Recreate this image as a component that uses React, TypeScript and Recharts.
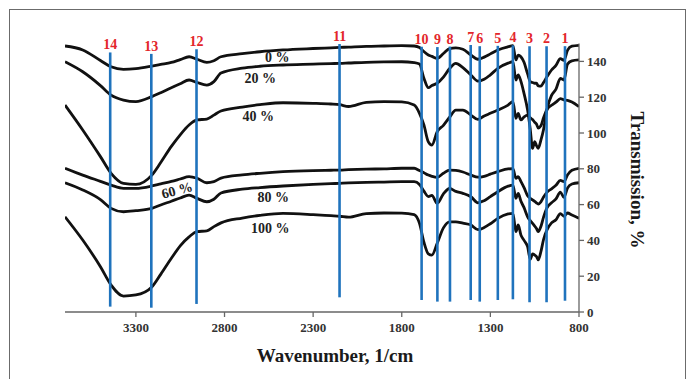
import React from "react";
import {
  LineChart,
  Line,
  XAxis,
  YAxis,
  ReferenceLine,
  ReferenceDot,
} from "recharts";

const SERIF = "'Liberation Serif', 'Times New Roman', serif";

// wavenumber grid, 1/cm
const wavenumbers = [
  3700, 3600, 3500, 3440, 3370, 3300, 3210, 3160, 3100, 3050, 3000, 2955, 2900, 2860, 2820,
  2700, 2600, 2470, 2300, 2200, 2150, 2100, 2000, 1900, 1800, 1730, 1700, 1675, 1650, 1630,
  1600, 1565, 1530, 1495, 1455, 1410, 1370, 1335, 1300, 1258, 1200, 1173, 1156, 1143, 1128,
  1110, 1090, 1075, 1062, 1050, 1040, 1030, 1015, 1000, 980, 955, 930, 905, 885, 865, 840, 800,
];

const t0 = [
  148.6, 146.4, 140.5, 137, 135.6, 136, 137.4, 138.3, 139.4, 141, 142.6, 141.2, 139.5, 140.4, 142.6,
  144.3, 145.4, 146.4, 147.2, 147.6, 147.8, 148, 148.4, 148.6, 148.8, 148.6, 147.8, 145.5, 143.6, 142.8,
  141.7, 144.4, 147.2, 147.6, 146.8, 143.6, 141.2, 142.4, 144.2, 146.4, 148.2, 148.8, 140.8, 143.5, 142.6,
  139.5, 133, 128.7, 128.2, 127.8, 127.8, 126.3, 126.2, 128.2, 131.5, 135.2, 137.8, 141.5, 140.6, 146.2, 148.5, 149,
];

const t20 = [
  139.8, 134.2, 126.5, 121.2, 118.4, 117.5, 120.3, 122.5, 125.3, 127.5, 129.6, 128.2, 126.8, 128.7, 133.5,
  136.2, 137.3, 138, 138.5, 138.8, 138.9, 139.1, 139.5, 139.7, 139.8, 139.3, 138.5, 130.6, 125.3, 126.5,
  127.8, 131.2, 136, 138.9, 136.5, 132.4, 129, 130, 132.5, 136.1, 139, 139.8, 129.6, 132.4, 129,
  122, 112.8, 102, 91.4, 95.2, 93, 91.4, 96, 102, 113.5, 121, 124.5, 130.5, 129.6, 138.5, 140.3, 140.8,
];

const t40 = [
  115.6, 101.7, 86.8, 77.5, 71.9, 71.3, 76.5, 83.5, 92.5, 99, 104.5, 107.3, 107.8, 110, 112.3,
  114.5, 115.8, 116.9, 116.6, 116.2, 115.8, 114.8, 117.1, 117.5, 117.4, 115.6, 111, 104.5, 95, 93.2,
  100.7, 104.3, 108.8, 112.8, 112.8, 110, 107.6, 109.5, 111, 112.8, 115.6, 117.5, 108.2, 111, 107.3,
  109, 110, 108.5, 107.5, 106, 105, 102.8, 104, 108.5, 113.3, 115.5, 117.2, 119.2, 118.5, 118.2, 117.3, 114.7,
];

const t60 = [
  80.3, 76.5, 73, 70.9, 69.1, 69.1, 70.4, 71.6, 73, 74.3, 75.6, 74.7, 72.2, 72.8, 74.8,
  76.6, 77.5, 78.4, 79, 79.2, 79.3, 79.5, 79.8, 80, 80.3, 80.3, 79, 77.8, 76.5, 75.8,
  75.2, 77.5, 79.3, 79.1, 78.2, 76.5, 75.3, 75.8, 77, 78.4, 80, 80.1, 74.7, 75.6, 73,
  69.5, 65, 63.5, 62.6, 61.8, 61, 60.3, 61.5, 64.2, 67, 68.8, 70.8, 73.5, 72.8, 76.5, 79.2, 80.3,
];

const t80 = [
  72.2, 68.2, 62.8, 57.9, 56, 56.6, 57.9, 59.8, 61.9, 63.7, 65.3, 63.5, 61.6, 63, 66.5,
  68.6, 69.5, 70.4, 71.3, 71.7, 71.9, 72.1, 72.4, 72.6, 72.8, 72.8, 71.2, 67.5, 64.5, 65.2,
  60.7, 66, 69, 67.4, 66.3, 64.4, 61, 62.2, 64.5, 67.2, 70.3, 70.9, 63.5, 66.3, 62,
  58.3, 53.2, 51, 49.5, 48, 46.6, 44.9, 47.8, 53, 58.3, 61, 63.2, 67, 64, 69.2, 71.5, 72.2,
];

const t100 = [
  53.2, 40.2, 25.3, 15.1, 8.9, 9.5, 14, 21, 30, 37, 42, 44.9, 45.3, 47.7, 49.8,
  52.5, 54, 55.1, 54.4, 53.8, 53.5, 53, 55, 55.3, 55.2, 54.4, 49.5, 39, 32.5, 31.8,
  38.4, 47, 50.4, 50.4, 49.6, 48.6, 46, 47.2, 49.3, 52.3, 54.8, 55.1, 44.9, 48.6, 43.1,
  40, 36.5, 29.5, 32.5, 31.8, 31, 29.1, 33.7, 40.5, 46, 49.8, 51.5, 55, 53.5, 55.3, 54.2, 52.3,
];

// marked bands: number, position, top and bottom of the blue line
const bandIds = ["1", "2", "3", "4", "5", "6", "7", "8", "9", "10", "11", "12", "13", "14"];
const bandPos = [879, 983, 1079, 1173, 1258, 1360, 1411, 1528, 1599, 1688, 2151, 2958, 3213, 3445];
const bandTop = [148.5, 148.5, 148.5, 149, 148.7, 148.5, 149.2, 148.3, 148, 148.2, 149.7, 146.8, 144.2, 145];
const bandBottom = [6.3, 5.4, 5.4, 7.1, 6.7, 5.8, 6.7, 5.8, 5.8, 6.7, 8.2, 4.5, 2.4, 3.0];

const seriesKeys = ["t0", "t20", "t40", "t60", "t80", "t100"];
const seriesValues = [t0, t20, t40, t60, t80, t100];

// curve captions
const captionText = ["0 %", "20 %", "40 %", "60 %", "80 %", "100 %"];
const captionX = [2502, 2599, 2610, 3068, 2525, 2542];
const captionY = [142.5, 130.7, 109.5, 68.2, 64.2, 46.9];
const captionAngle = [0, 0, 0, -15, 0, 0];

const xTicks = [3300, 2800, 2300, 1800, 1300, 800];
const yTicks = [0, 20, 40, 60, 80, 100, 120, 140];

const rows = wavenumbers.map((wn, i) => {
  const row: Record<string, number> = { wn };
  seriesKeys.forEach((k, j) => {
    row[k] = seriesValues[j][i];
  });
  return row;
});

const tickStyle = { fontSize: 13, fontFamily: SERIF, fontWeight: "bold", fill: "#333" };

export default function App() {
  return (
    <div
      style={{
        position: "absolute",
        left: 0,
        top: 0,
        width: 690,
        height: 379,
        background: "#fff",
        overflow: "hidden",
      }}
    >
      <div
        style={{
          position: "absolute",
          left: 9,
          top: 9,
          width: 675,
          height: 400,
          border: "1.5px solid #6b6b6b",
        }}
      />
      <LineChart
        width={690}
        height={379}
        data={rows}
        margin={{ top: 43.5, right: 71, bottom: 37, left: 65 }}
        style={{ position: "absolute", left: 0, top: 0 }}
      >
        <XAxis
          dataKey="wn"
          type="number"
          domain={[800, 3700]}
          reversed
          ticks={xTicks}
          height={30}
          tick={tickStyle}
          tickSize={5}
          tickMargin={6}
          stroke="#666"
          strokeWidth={1.3}
          allowDataOverflow
        />
        <YAxis
          orientation="right"
          domain={[0, 150]}
          ticks={yTicks}
          width={40}
          tick={tickStyle}
          tickSize={5}
          tickMargin={3}
          stroke="#666"
          strokeWidth={1.3}
          allowDataOverflow
        />
        {seriesKeys.map((k) => (
          <Line
            key={k}
            dataKey={k}
            type="monotone"
            stroke="#111"
            strokeWidth={2.8}
            dot={false}
            isAnimationActive={false}
          />
        ))}
        {bandIds.map((id, i) => (
          <ReferenceLine
            key={"b" + id}
            segment={[
              { x: bandPos[i], y: bandTop[i] },
              { x: bandPos[i], y: bandBottom[i] },
            ]}
            stroke="#1f73bd"
            strokeWidth={2.6}
            label={{
              value: id,
              position: "top",
              offset: 3,
              fill: "#e3262b",
              fontSize: 14,
              fontWeight: "bold",
              fontFamily: SERIF,
            }}
          />
        ))}
        {captionText.map((txt, i) => (
          <ReferenceDot
            key={"c" + i}
            x={captionX[i]}
            y={captionY[i]}
            r={0}
            fill="none"
            stroke="none"
            label={{
              value: txt,
              position: "center",
              angle: captionAngle[i],
              fill: "#222",
              fontSize: 14,
              fontWeight: "bold",
              fontFamily: SERIF,
            }}
          />
        ))}
      </LineChart>
      <div
        style={{
          position: "absolute",
          left: 0,
          width: 670,
          top: 345,
          textAlign: "center",
          fontFamily: SERIF,
          fontWeight: "bold",
          fontSize: 19,
          color: "#1a1a1a",
        }}
      >
        Wavenumber, 1/cm
      </div>
      <div
        style={{
          position: "absolute",
          left: 637,
          top: 180,
          transform: "translate(-50%, -50%) rotate(90deg)",
          whiteSpace: "nowrap",
          fontFamily: SERIF,
          fontWeight: "bold",
          fontSize: 19,
          color: "#1a1a1a",
        }}
      >
        Transmission, %
      </div>
    </div>
  );
}
